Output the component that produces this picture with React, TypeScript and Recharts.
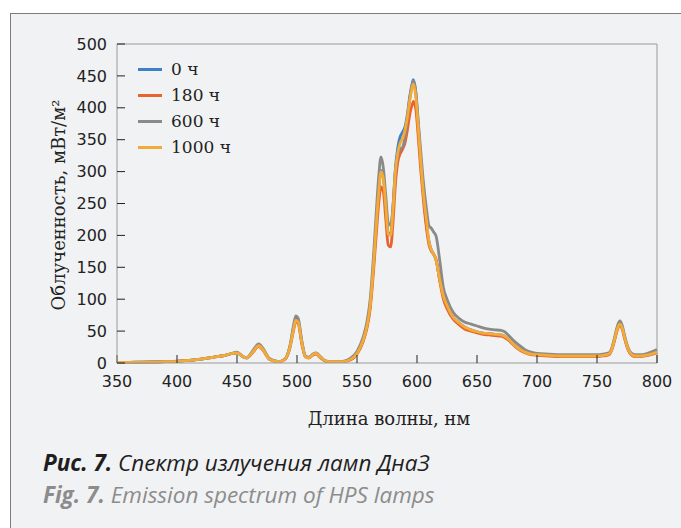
import React from 'react';
import { LineChart, Line, XAxis, YAxis, ReferenceLine, Legend } from 'recharts';

const wavelengths = [
  350, 360, 370, 380, 390, 400, 410, 420, 430, 440,
  446, 450, 455, 458, 463, 468, 472, 477, 485, 490,
  494, 497, 499, 501, 504, 507, 510, 513, 516, 519,
  524, 530, 538, 545, 550, 555, 558, 561, 564, 566,
  568, 570, 572, 574, 576, 578, 580, 582, 584, 586,
  588, 590, 592, 594, 596, 597, 599, 601, 603, 605,
  608, 610, 612, 614, 616, 619, 622, 625, 630, 635,
  640, 645, 650, 655, 660, 665, 670, 673, 676, 680,
  685, 690, 695, 700, 710, 720, 730, 740, 750, 755,
  760, 762, 765, 767, 769, 771, 773, 776, 779, 782,
  786, 790, 795, 800,
];

const h0 = [
  1, 1, 1.5, 1.5, 2, 2.5, 4, 6, 9, 12,
  15, 16, 10, 8, 17, 28, 20, 6, 2, 6,
  25, 54, 70, 66, 33, 10, 8, 13, 15, 10,
  3, 2, 2, 6, 15, 35, 55, 90, 160, 215,
  268, 302, 290, 246, 204, 202, 245, 305, 338, 355,
  362, 370, 390, 418, 438, 444, 424, 375, 322, 274,
  215, 190, 177, 170, 160, 130, 105, 90, 72, 63,
  56, 52, 49, 47, 46, 45, 44, 42, 38, 30,
  22, 17, 14, 13, 12, 11, 11, 11, 11, 12,
  14, 20, 40, 55, 62, 56, 40, 22, 13, 11,
  11, 12, 14, 17,
];

const h180 = [
  1, 1, 1, 1.5, 2, 2.5, 4, 6, 9, 12,
  15, 16, 10, 8, 16, 26, 19, 6, 2, 6,
  23, 50, 65, 62, 30, 10, 8, 12, 14, 9,
  3, 2, 2, 5, 14, 33, 52, 85, 150, 200,
  248, 276, 268, 225, 185, 182, 220, 280, 315, 328,
  335, 345, 365, 390, 405, 410, 398, 355, 305, 262,
  210, 185, 175, 170, 162, 128, 100, 85, 69, 60,
  53, 50, 47, 45, 44, 43, 42, 40, 36, 29,
  21, 16, 13, 12, 11, 10, 10, 10, 10, 11,
  13, 19, 38, 52, 59, 53, 38, 20, 12, 10,
  10, 11, 13, 16,
];

const h600 = [
  1, 1, 1.5, 2, 2, 3, 4, 6, 9, 12,
  15, 17, 10, 8, 19, 30, 22, 7, 2, 6,
  26, 58, 74, 70, 35, 11, 9, 14, 16, 11,
  3, 2, 2.5, 8, 18, 40, 62, 100, 175, 235,
  290, 323, 305, 262, 220, 216, 245, 300, 325, 335,
  338, 355, 385, 415, 436, 442, 425, 380, 335, 290,
  240, 215, 211, 205, 198, 160, 118, 100, 80, 70,
  64, 61, 58, 55, 53, 52, 51, 49, 44, 36,
  28, 21, 17, 15, 14, 13, 13, 13, 13, 14,
  16, 22, 43, 58, 66, 59, 43, 24, 15, 13,
  13, 14, 17, 21,
];

const h1000 = [
  1, 1, 1.5, 1.5, 2, 2.5, 4, 6, 9, 12,
  15, 16, 10, 8, 17, 27, 20, 6, 2, 6,
  24, 52, 67, 64, 32, 10, 8, 13, 15, 10,
  3, 2, 2, 6, 15, 35, 55, 90, 160, 215,
  265, 300, 288, 245, 202, 200, 240, 300, 330, 345,
  352, 365, 385, 412, 432, 437, 418, 370, 320, 272,
  222, 190, 177, 170, 160, 130, 105, 90, 72, 63,
  56, 52, 49, 47, 46, 45, 44, 42, 38, 30,
  22, 17, 14, 13, 12, 11, 11, 11, 11, 12,
  14, 20, 40, 54, 61, 55, 40, 22, 13, 11,
  11, 12, 14, 17,
];

const seriesKeys = ['h0', 'h180', 'h600', 'h1000'];
const seriesNames = ['0 ч', '180 ч', '600 ч', '1000 ч'];
const seriesColors = ['#3f7fca', '#e8642c', '#8a8a8a', '#f2aa38'];
const xTicks = [350, 400, 450, 500, 550, 600, 650, 700, 750, 800];
const yTicks = [0, 50, 100, 150, 200, 250, 300, 350, 400, 450, 500];

const xTitle = 'Длина волны, нм';
const yTitle = 'Облученность, мВт/м²';
const captionRuLead = 'Рис. 7.';
const captionRu = 'Спектр излучения ламп ДнаЗ';
const captionEnLead = 'Fig. 7.';
const captionEn = 'Emission spectrum of HPS lamps';

const seriesValues = [h0, h180, h600, h1000];
const rows = wavelengths.map((wl, i) => {
  const r: Record<string, number> = { wl };
  seriesKeys.forEach((k, j) => {
    r[k] = seriesValues[j][i];
  });
  return r;
});

const serif = '"DejaVu Serif", serif';
const sans = '"DejaVu Sans", sans-serif';
const capFont = '"Open Sans", "Noto Sans", sans-serif';

const renderLegend = () => (
  <div>
    {seriesNames.map((n, i) => (
      <div key={n} style={{ display: 'flex', alignItems: 'center', height: 26.1 }}>
        <span style={{ display: 'inline-block', width: 24, height: 3, background: seriesColors[i] }} />
        <span style={{ marginLeft: 9, fontFamily: serif, fontSize: 17, color: '#222', lineHeight: '26px' }}>{n}</span>
      </div>
    ))}
  </div>
);

export default function App() {
  return (
    <div style={{ position: 'absolute', left: 0, top: 0, width: 681, height: 528, overflow: 'hidden', background: '#ffffff' }}>
      <div style={{ position: 'absolute', left: 10, top: 13, width: 740, height: 620, border: '1px solid #7d7d7d', background: '#f1f2f4', boxSizing: 'border-box' }} />
      <div style={{ position: 'absolute', left: 0, top: 0 }}>
        <LineChart width={681} height={528} data={rows} margin={{ top: 44, right: 24, bottom: 135, left: 0 }}>
          <XAxis
            dataKey="wl"
            type="number"
            domain={[350, 800]}
            ticks={xTicks}
            interval={0}
            height={30}
            tickSize={-8}
            tickMargin={21}
            axisLine={{ stroke: '#9a9a9a' }}
            tickLine={{ stroke: '#222' }}
            tick={{ fill: '#222', fontSize: 16, fontFamily: sans }}
          />
          <YAxis
            type="number"
            domain={[0, 500]}
            ticks={yTicks}
            interval={0}
            width={117}
            tickSize={-8}
            tickMargin={18}
            axisLine={{ stroke: '#9a9a9a' }}
            tickLine={{ stroke: '#222' }}
            tick={{ fill: '#222', fontSize: 16, fontFamily: sans }}
          />
          <ReferenceLine y={500} stroke="#9a9a9a" />
          <ReferenceLine x={800} stroke="#9a9a9a" />
          <Legend
            layout="vertical"
            align="center"
            verticalAlign="middle"
            content={renderLegend}
            wrapperStyle={{ position: 'absolute', left: 138, top: 56, width: 120, height: 110 }}
          />
          {seriesKeys.map((k, i) => (
            <Line
              key={k}
              dataKey={k}
              name={seriesNames[i]}
              type="monotone"
              stroke={seriesColors[i]}
              strokeWidth={2.8}
              dot={false}
              isAnimationActive={false}
            />
          ))}
        </LineChart>
      </div>
      <div style={{ position: 'absolute', left: 389, top: 418, transform: 'translate(-50%, -50%)', whiteSpace: 'nowrap', fontFamily: serif, fontSize: 18, color: '#222' }}>
        {xTitle}
      </div>
      <div style={{ position: 'absolute', left: 58, top: 205, transform: 'translate(-50%, -50%) rotate(-90deg)', whiteSpace: 'nowrap', fontFamily: serif, fontSize: 18, color: '#222' }}>
        {yTitle}
      </div>
      <div style={{ position: 'absolute', left: 43, top: 449, whiteSpace: 'nowrap', fontFamily: capFont, fontSize: 22.5, lineHeight: '28px', fontStyle: 'italic', color: '#1e1e1e' }}>
        <b>{captionRuLead}</b> {captionRu}
      </div>
      <div style={{ position: 'absolute', left: 43, top: 481, whiteSpace: 'nowrap', fontFamily: capFont, fontSize: 22.5, lineHeight: '28px', fontStyle: 'italic', color: '#8c8c8c' }}>
        <b>{captionEnLead}</b> {captionEn}
      </div>
    </div>
  );
}
